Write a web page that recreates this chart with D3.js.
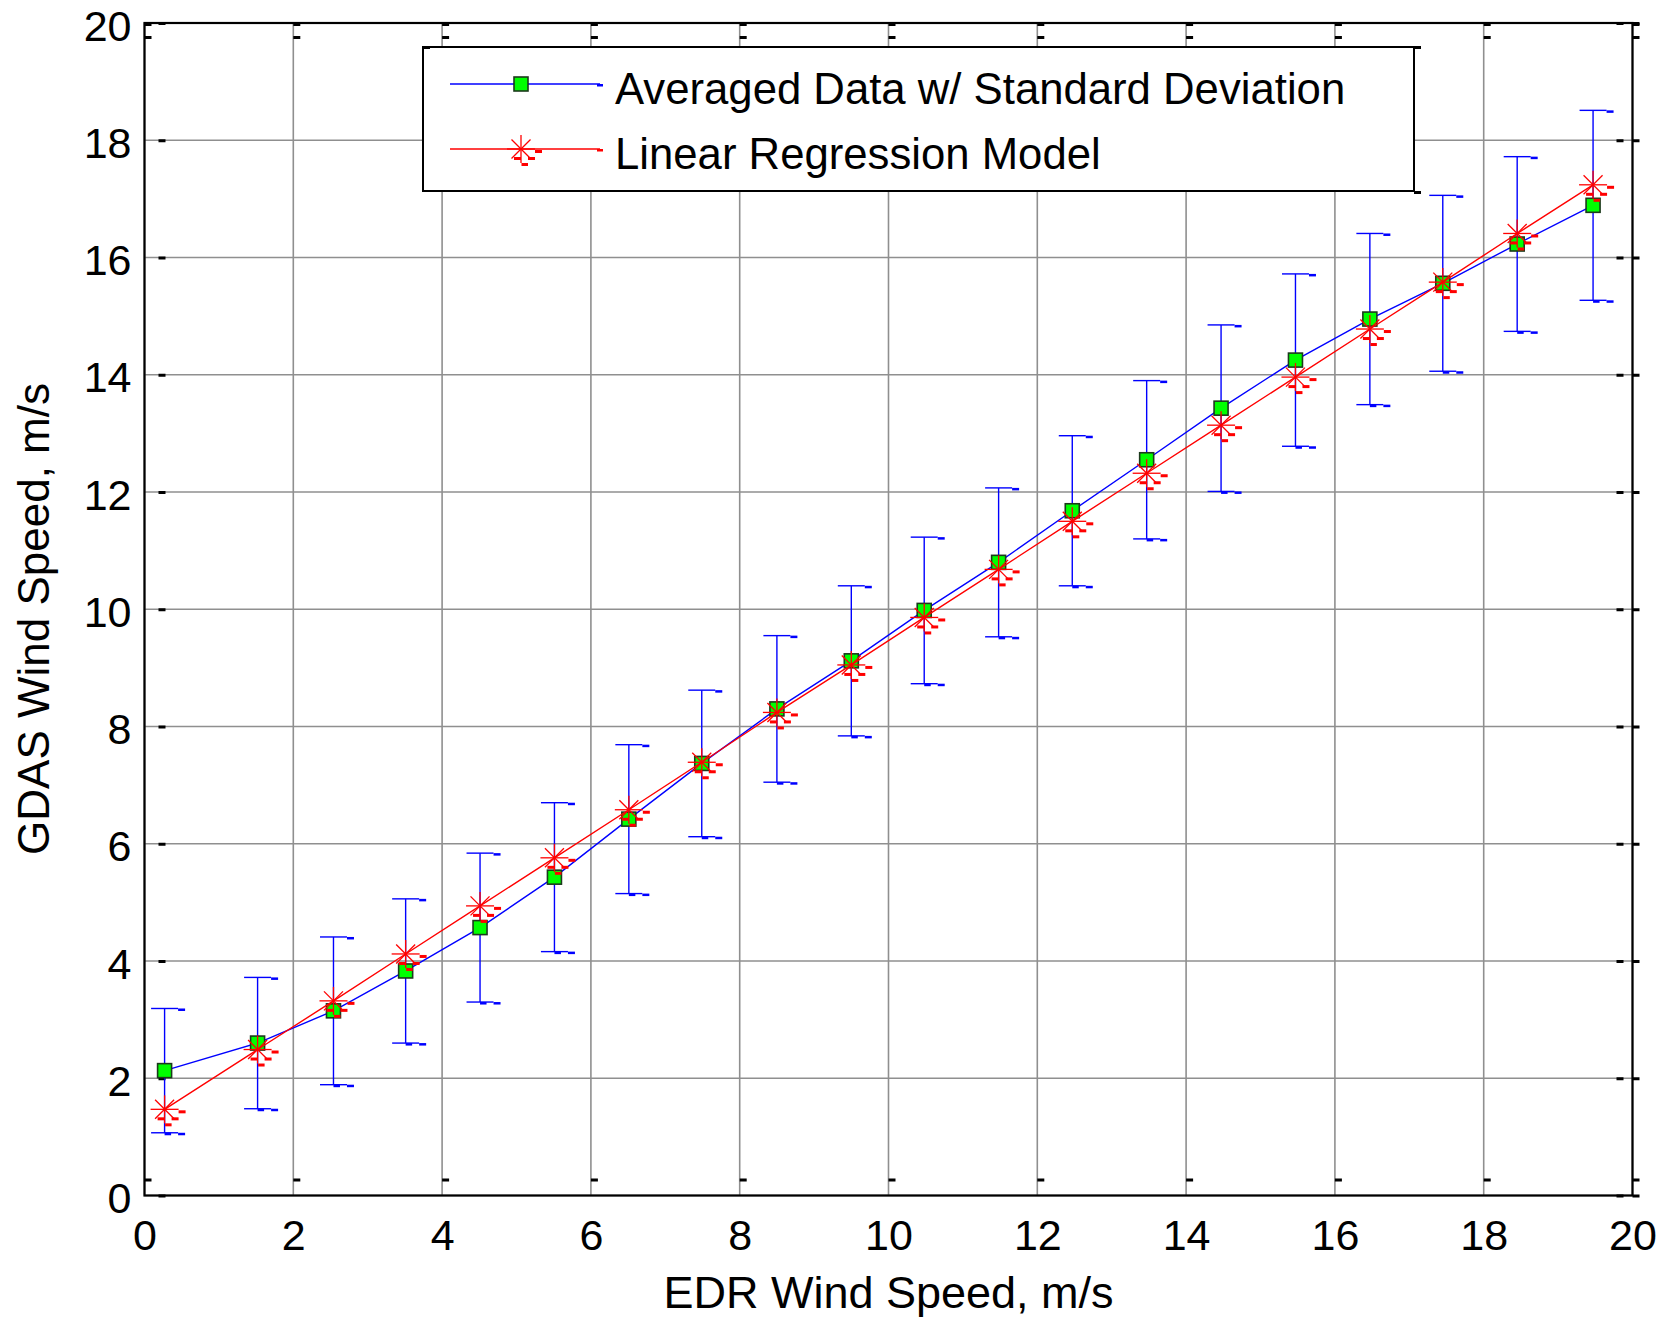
<!DOCTYPE html>
<html>
<head>
<meta charset="utf-8">
<script src="https://cdn.jsdelivr.net/npm/d3@7"></script>
<style>
  body { margin: 0; background: #fff; }
  text { font-family: "Liberation Sans", Arial, sans-serif; fill: #000; }
</style>
</head>
<body>
<div id="chart"></div>
<script>
// values
var edrSpeed = [0.27, 1.52, 2.54, 3.51, 4.51, 5.51, 6.51, 7.49, 8.5, 9.5,
  10.48, 11.48, 12.47, 13.47, 14.47, 15.47, 16.47, 17.45, 18.45, 19.47];
var gdasMean = [2.13, 2.6, 3.15, 3.83, 4.57, 5.43, 6.42, 7.37, 8.3, 9.12,
  9.98, 10.8, 11.68, 12.55, 13.43, 14.25, 14.95, 15.56, 16.23, 16.89];
var gdasStd = [1.06, 1.12, 1.26, 1.23, 1.27, 1.27, 1.27, 1.25, 1.25, 1.28,
  1.25, 1.27, 1.28, 1.35, 1.42, 1.47, 1.46, 1.5, 1.49, 1.62];
var regression = [1.47, 2.49, 3.32, 4.12, 4.94, 5.76, 6.58, 7.39, 8.24, 9.05,
  9.86, 10.68, 11.5, 12.32, 13.14, 13.96, 14.78, 15.58, 16.41, 17.24];
var tickValues = [0, 2, 4, 6, 8, 10, 12, 14, 16, 18, 20];
var legendLabels = ["Averaged Data w/ Standard Deviation", "Linear Regression Model"];

var svgWidth = 1661, svgHeight = 1318;
var margin = { top: 23, right: 28.5, bottom: 122.5, left: 144.5 };
var width = svgWidth - margin.left - margin.right;
var height = svgHeight - margin.top - margin.bottom;

var svg = d3.select("#chart").append("svg")
  .attr("width", svgWidth)
  .attr("height", svgHeight);

svg.append("rect").attr("width", svgWidth).attr("height", svgHeight).attr("fill", "#fff");

var chart = svg.append("g")
  .attr("transform", `translate(${margin.left}, ${margin.top})`);

var xScale = d3.scaleLinear().domain([0, 20]).range([0, width]);
var yScale = d3.scaleLinear().domain([0, 20]).range([height, 0]);

var data = edrSpeed.map(function(x, i) {
  return { x: x, mean: gdasMean[i], std: gdasStd[i], fit: regression[i] };
});

// grid
chart.append("g").selectAll("line")
  .data(tickValues)
  .enter().append("line")
  .attr("x1", d => xScale(d)).attr("x2", d => xScale(d))
  .attr("y1", 0).attr("y2", height)
  .attr("stroke", "#8f8f8f").attr("stroke-width", 1.6);

chart.append("g").selectAll("line")
  .data(tickValues)
  .enter().append("line")
  .attr("y1", d => yScale(d)).attr("y2", d => yScale(d))
  .attr("x1", 0).attr("x2", width)
  .attr("stroke", "#8f8f8f").attr("stroke-width", 1.6);

// tick labels
var xAxis = chart.append("g")
  .attr("transform", `translate(0, ${height})`)
  .call(d3.axisBottom(xScale).tickValues(tickValues).tickSize(0).tickPadding(24));
var yAxis = chart.append("g")
  .call(d3.axisLeft(yScale).tickValues(tickValues).tickSize(0).tickPadding(13));

[xAxis, yAxis].forEach(function(ax) {
  ax.select(".domain").remove();
  ax.selectAll("text").style("font-size", "43px").attr("fill", "#000")
    .style("font-family", "'Liberation Sans', Arial, sans-serif");
});
yAxis.selectAll("text").attr("dy", "0.4em");

// the little tick dashes matlab leaves around the box
var dash = chart.append("g").attr("fill", "#000");
tickValues.forEach(function(v) {
  [[xScale(v), height - 17], [xScale(v), 13], [xScale(v), 0]].forEach(function(p) {
    dash.append("rect").attr("x", p[0]).attr("y", p[1]).attr("width", 7).attr("height", 3);
  });
  [[14, yScale(v) - 1], [width - 16, yScale(v) - 1], [width, yScale(v) - 1]].forEach(function(p) {
    dash.append("rect").attr("x", p[0]).attr("y", p[1]).attr("width", 7).attr("height", 3);
  });
});

// box
chart.append("rect")
  .attr("width", width).attr("height", height)
  .attr("fill", "none").attr("stroke", "#000").attr("stroke-width", 2.2);

// error bars
var bars = chart.append("g").attr("stroke", "#0000ff").attr("stroke-width", 1.4);
data.forEach(function(d) {
  var cx = xScale(d.x), yTop = yScale(d.mean + d.std), yBot = yScale(d.mean - d.std);
  bars.append("line").attr("x1", cx).attr("x2", cx).attr("y1", yTop).attr("y2", yBot);
  [yTop, yBot].forEach(function(yy) {
    bars.append("line").attr("x1", cx - 13.5).attr("x2", cx + 13.5).attr("y1", yy).attr("y2", yy);
  });
  bars.append("rect").attr("x", cx + 13.5).attr("y", yTop).attr("width", 7).attr("height", 2.5)
    .attr("fill", "#0000ff").attr("stroke", "none");
  bars.append("rect").attr("x", cx + 13.5).attr("y", yBot).attr("width", 7).attr("height", 2.5)
    .attr("fill", "#0000ff").attr("stroke", "none");
  bars.append("rect").attr("x", cx).attr("y", yBot).attr("width", 6.5).attr("height", 2.5)
    .attr("fill", "#0000ff").attr("stroke", "none");
});

// averaged data line + squares
var meanLine = d3.line().x(d => xScale(d.x)).y(d => yScale(d.mean));
chart.append("path").datum(data)
  .attr("d", meanLine)
  .attr("fill", "none").attr("stroke", "#0000ff").attr("stroke-width", 1.4);

function drawSquare(g, cx, cy) {
  g.append("rect")
    .attr("x", cx - 7).attr("y", cy - 7).attr("width", 14).attr("height", 14)
    .attr("fill", "#00ff00").attr("stroke", "#1c3a1c").attr("stroke-width", 1.6);
}

var squares = chart.append("g");
data.forEach(function(d) { drawSquare(squares, xScale(d.x), yScale(d.mean)); });

// regression line + asterisks
var fitLine = d3.line().x(d => xScale(d.x)).y(d => yScale(d.fit));
chart.append("path").datum(data)
  .attr("d", fitLine)
  .attr("fill", "none").attr("stroke", "#ff0000").attr("stroke-width", 1.4);

function drawStar(g, cx, cy) {
  var s = g.append("g").attr("transform", `translate(${cx}, ${cy})`);
  var spokes = [[-14, 0, 14, 0], [0, -14, 0, 14], [-9.5, -9.5, 9.5, 9.5], [-9.5, 9.5, 9.5, -9.5]];
  spokes.forEach(function(k) {
    s.append("line").attr("x1", k[0]).attr("y1", k[1]).attr("x2", k[2]).attr("y2", k[3])
      .attr("stroke", "#ff0000").attr("stroke-width", 1.3);
  });
  [[14, 1, 7], [7, 8, 7], [-7, 8, 7], [0.5, 14, 6.5]].forEach(function(r) {
    s.append("rect").attr("x", r[0]).attr("y", r[1]).attr("width", r[2]).attr("height", 3)
      .attr("fill", "#ff0000");
  });
}

var stars = chart.append("g");
data.forEach(function(d) { drawStar(stars, xScale(d.x), yScale(d.fit)); });

// legend
var legend = svg.append("g").attr("transform", "translate(423, 47)");
legend.append("rect")
  .attr("width", 991).attr("height", 144)
  .attr("fill", "#fff").attr("stroke", "#000").attr("stroke-width", 2);
[[0, -1], [991, -1], [991, 144]].forEach(function(p) {
  legend.append("rect").attr("x", p[0]).attr("y", p[1]).attr("width", 7).attr("height", 3).attr("fill", "#000");
});

var legendColors = ["#0000ff", "#ff0000"];
legendLabels.forEach(function(label, i) {
  var ly = 37 + i * 65;
  legend.append("line")
    .attr("x1", 27).attr("x2", 177).attr("y1", ly).attr("y2", ly)
    .attr("stroke", legendColors[i]).attr("stroke-width", 1.4);
  legend.append("rect").attr("x", 174).attr("y", ly).attr("width", 6).attr("height", 2.5)
    .attr("fill", legendColors[i]);
  if (i === 0) drawSquare(legend, 98, ly);
  else drawStar(legend, 98, ly);
  legend.append("text")
    .attr("x", 192).attr("y", ly + 20)
    .style("font-size", "43.7px")
    .text(label);
});

// axis titles
svg.append("text")
  .attr("x", margin.left + width / 2).attr("y", 1308)
  .attr("text-anchor", "middle")
  .style("font-size", "45px")
  .text("EDR Wind Speed, m/s");

svg.append("text")
  .attr("transform", `translate(49, 619) rotate(-90)`)
  .attr("text-anchor", "middle")
  .style("font-size", "44px")
  .text("GDAS Wind Speed, m/s");
</script>
</body>
</html>
